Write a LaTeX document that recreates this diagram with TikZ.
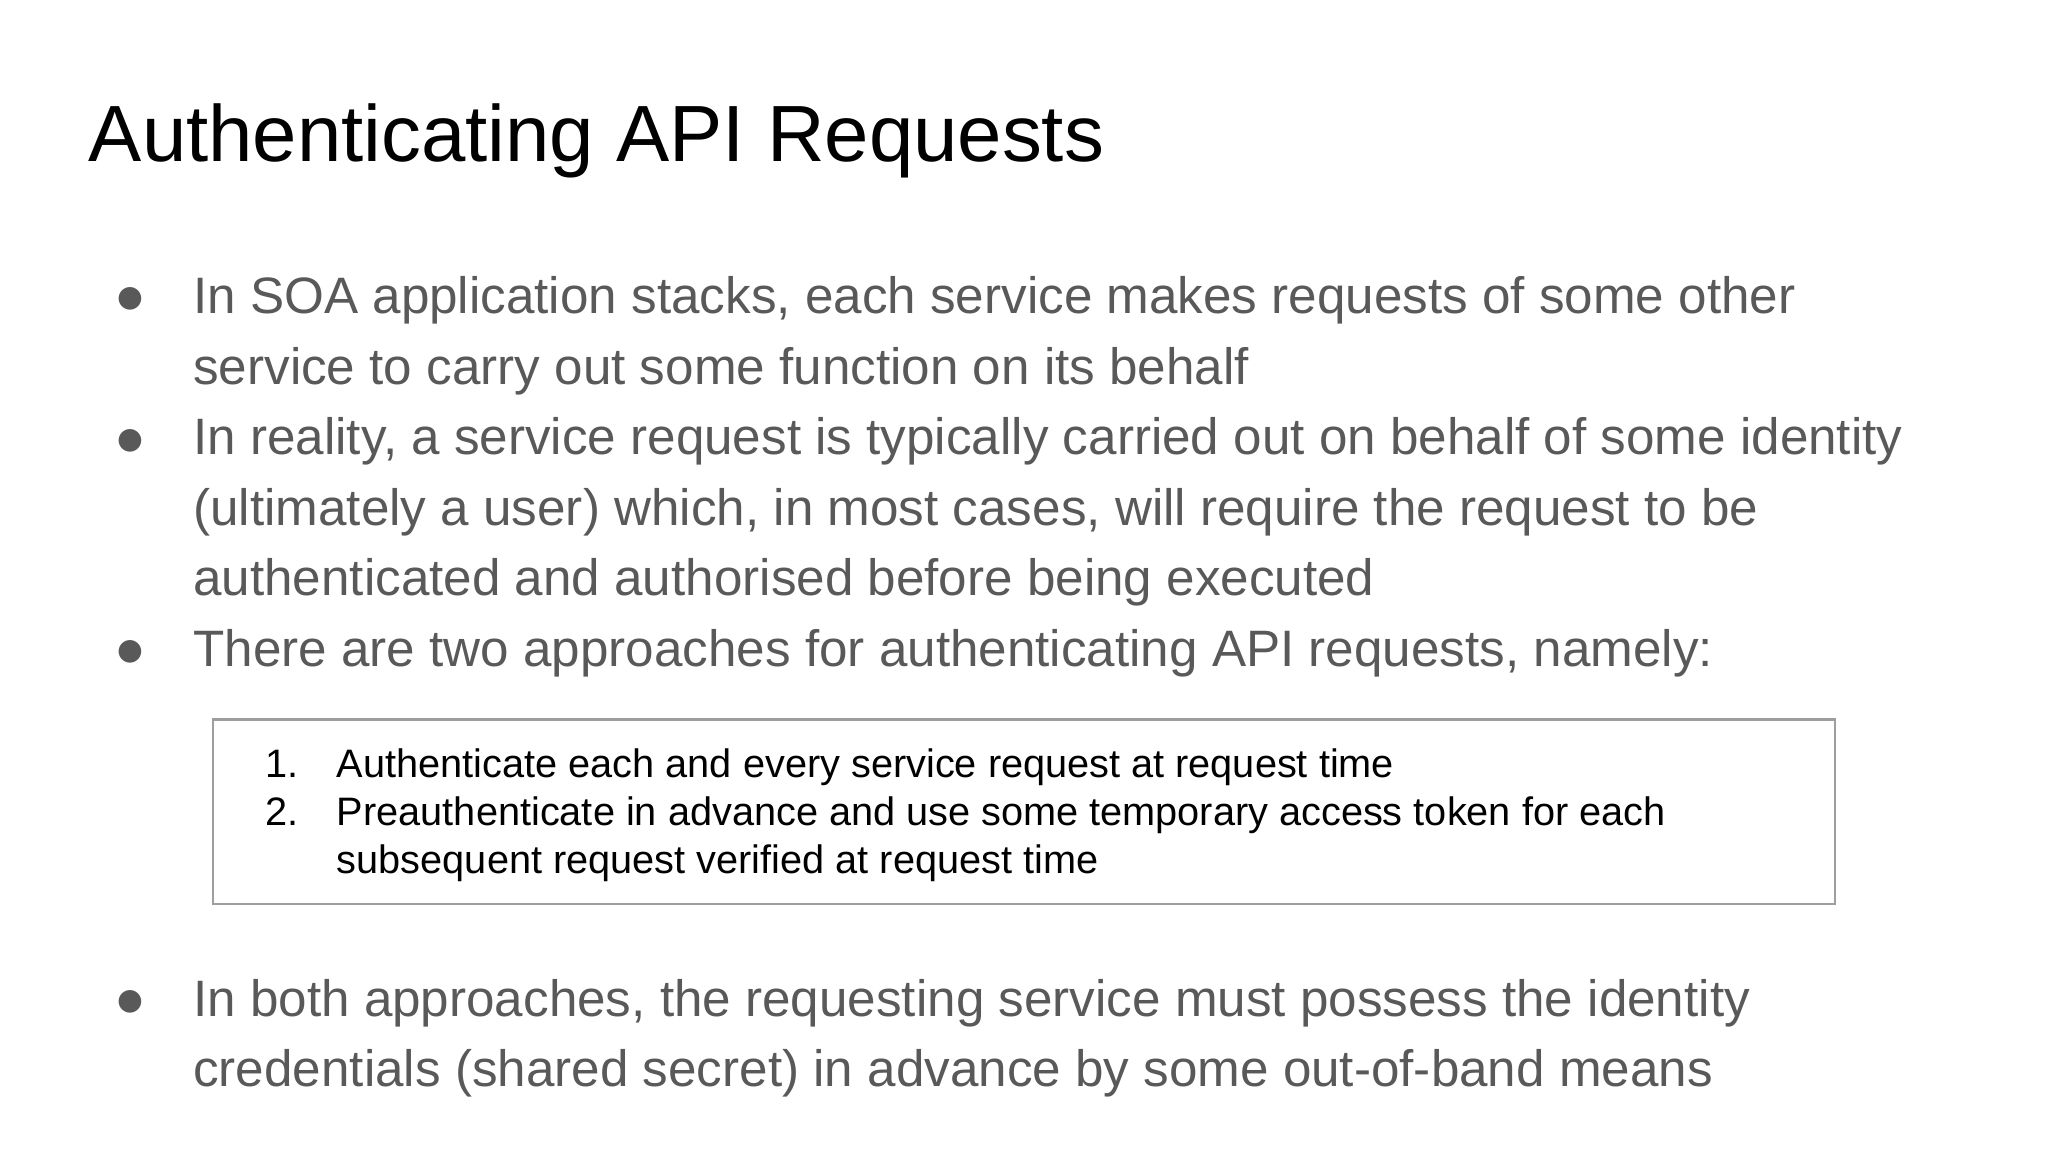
\documentclass[tikz,border=0pt]{standalone}
\usepackage{fontspec}
\setmainfont{Liberation Sans}
\newfontfamily\dejavu{DejaVu Sans}
\definecolor{txt}{HTML}{595959}
\definecolor{boxc}{HTML}{9E9E9E}
\begin{document}
\begin{tikzpicture}[x=0.75pt,y=-0.75pt,
  every node/.style={inner sep=0pt,outer sep=0pt},
  title/.style={anchor=base west,font=\fontsize{45.8}{54}\selectfont,text=black},
  body/.style={anchor=base west,font=\fontsize{29.4}{36}\selectfont,text=txt},
  bul/.style={anchor=base west,font=\dejavu\fontsize{17}{20}\selectfont,text=txt},
  boxt/.style={anchor=base west,font=\fontsize{22.8}{28}\selectfont,text=black}]
\useasboundingbox (0,0) rectangle (1568,882);
\node[title] (t) at (68,124) {Authenticating API Requests};
\node[bul] (b1) at (90,235) {●};
\node[body] (l1) at (148,240) {In SOA application stacks, each service makes requests of some other};
\node[body] (l2) at (148,294) {service to carry out some function on its behalf};
\node[bul] (b2) at (90,343) {●};
\node[body] (l3) at (148,348) {In reality, a service request is typically carried out on behalf of some identity};
\node[body] (l4) at (148,402) {(ultimately a user) which, in most cases, will require the request to be};
\node[body] (l5) at (148,456) {authenticated and authorised before being executed};
\node[bul] (b3) at (90,505) {●};
\node[body] (l6) at (148,510) {There are two approaches for authenticating API requests, namely:};
\draw[boxc,line width=1.5] (163,551) rectangle (1405,692);
\node[boxt] (n1) at (203,595) {1.};
\node[boxt] (i1) at (258,595) {Authenticate each and every service request at request time};
\node[boxt] (n2) at (203,632) {2.};
\node[boxt] (i2) at (258,632) {Preauthenticate in advance and use some temporary access token for each};
\node[boxt] (i3) at (258,669) {subsequent request verified at request time};
\node[bul] (b4) at (90,773) {●};
\node[body] (l7) at (148,778) {In both approaches, the requesting service must possess the identity};
\node[body] (l8) at (148,832) {credentials (shared secret) in advance by some out-of-band means};
\end{tikzpicture}
\end{document}
